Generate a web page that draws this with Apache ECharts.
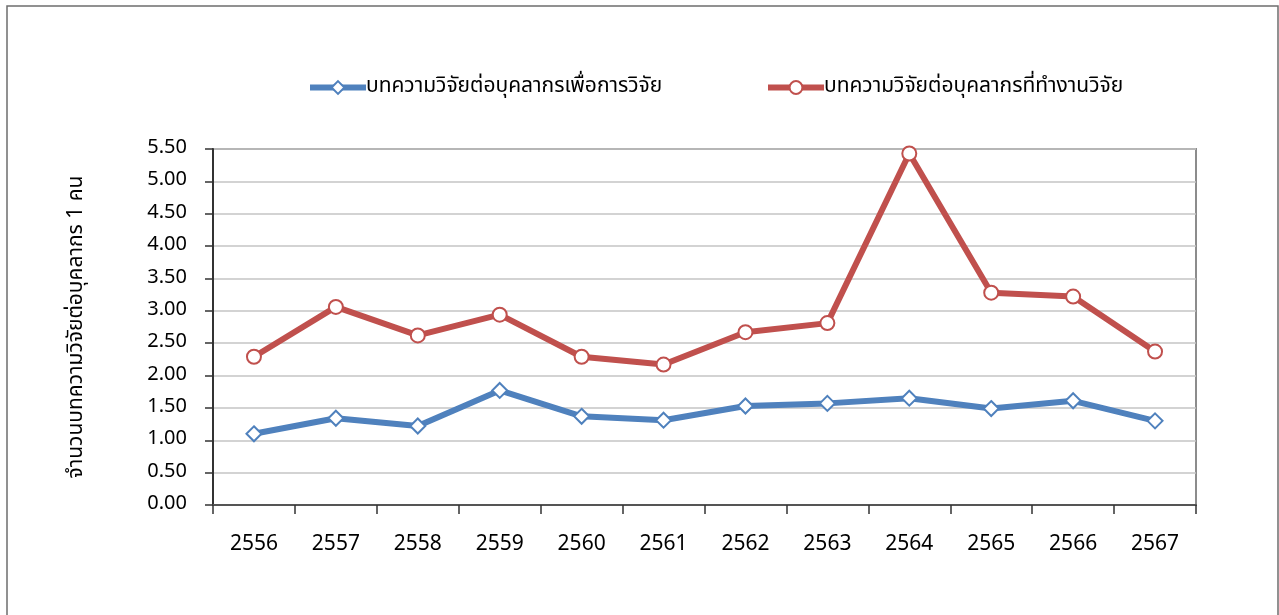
<!DOCTYPE html>
<html>
<head>
<meta charset="utf-8">
<script src="https://cdn.jsdelivr.net/npm/echarts@6/dist/echarts.min.js"></script>
<style>
  html, body { margin: 0; padding: 0; background: #fff; }
  #chart { width: 1279px; height: 615px; }
</style>
</head>
<body>
<div id="chart"></div>
<script>
// Fiscal years (Buddhist era)
const years = ['2556', '2557', '2558', '2559', '2560', '2561', '2562', '2563', '2564', '2565', '2566', '2567'];
// Research papers per research-oriented staff member
const perResearchStaff = [1.10, 1.34, 1.22, 1.77, 1.37, 1.31, 1.53, 1.57, 1.65, 1.49, 1.61, 1.30];
// Research papers per staff member who actually does research
const perActiveStaff = [2.29, 3.06, 2.62, 2.94, 2.29, 2.17, 2.67, 2.81, 5.43, 3.28, 3.22, 2.37];
const seriesNames = ['บทความวิจัยต่อบุคลากรเพื่อการวิจัย', 'บทความวิจัยต่อบุคลากรที่ทำงานวิจัย'];
const yAxisTitle = 'จำนวนบทความวิจัยต่อบุคลากร 1 คน';

const FONT = "Tahoma, 'Noto Sans Thai', 'Noto Sans Thai UI', 'Liberation Sans', 'DejaVu Sans', sans-serif";
const BLUE = '#4F81BD';
const RED = '#C0504D';

const chart = echarts.init(document.getElementById('chart'), null, { renderer: 'canvas' });

const legendBase = {
  top: 72,
  itemWidth: 56,
  itemHeight: 16,
  itemGap: 0,
  lineStyle: { width: 6 },
  itemStyle: { borderWidth: 2 },
  textStyle: { fontFamily: FONT, fontSize: 21, color: '#000', padding: [0, 0, 0, -5] }
};

chart.setOption({
  backgroundColor: '#fff',
  animation: false,
  graphic: [{
    type: 'rect',
    shape: { x: 7, y: 6, width: 1271, height: 620 },
    style: { fill: 'none', stroke: '#6e6e6e', lineWidth: 1.5 },
    silent: true
  }],
  legend: [
    Object.assign({ left: 302, data: [seriesNames[0]] }, legendBase),
    Object.assign({ left: 760, data: [seriesNames[1]] }, legendBase)
  ],
  grid: {
    left: 213, right: 83, top: 149, bottom: 110,
    show: true, borderColor: '#8c8c8c', borderWidth: 2, backgroundColor: 'transparent'
  },
  xAxis: {
    type: 'category',
    data: years,
    boundaryGap: true,
    axisLine: { lineStyle: { color: '#555', width: 2 } },
    axisTick: { show: true, length: 9, alignWithLabel: false, lineStyle: { color: '#333', width: 1.5 } },
    axisLabel: { fontFamily: FONT, fontSize: 21, color: '#000', margin: 30 },
    splitLine: { show: false }
  },
  yAxis: {
    type: 'value',
    min: 0, max: 5.5, interval: 0.5,
    name: yAxisTitle,
    nameLocation: 'middle',
    nameGap: 125,
    nameTextStyle: { fontFamily: FONT, fontSize: 21, color: '#000' },
    axisLine: { show: true, lineStyle: { color: '#333', width: 2 } },
    axisTick: { show: true, length: 8, lineStyle: { color: '#333', width: 1.5 } },
    axisLabel: { fontFamily: FONT, fontSize: 20, color: '#000', margin: 26, formatter: v => v.toFixed(2) },
    splitLine: { show: true, lineStyle: { color: '#c4c4c4', width: 1.5 } }
  },
  series: [
    {
      name: seriesNames[0],
      type: 'line',
      data: perResearchStaff,
      symbol: 'diamond',
      symbolSize: 15,
      lineStyle: { color: BLUE, width: 6 },
      itemStyle: { color: '#fff', borderColor: BLUE, borderWidth: 2 },
      z: 3
    },
    {
      name: seriesNames[1],
      type: 'line',
      data: perActiveStaff,
      symbol: 'circle',
      symbolSize: 14,
      lineStyle: { color: RED, width: 6 },
      itemStyle: { color: '#fff', borderColor: RED, borderWidth: 2 },
      z: 3
    }
  ]
});
</script>
</body>
</html>
